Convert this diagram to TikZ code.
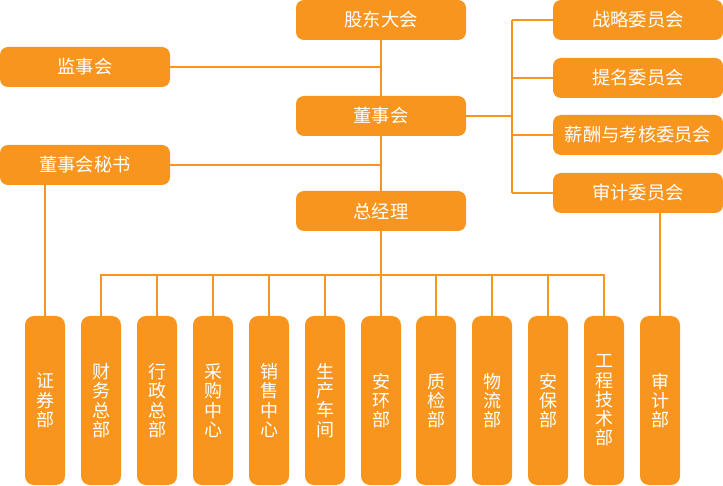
\documentclass[tikz,border=0pt]{standalone}
\usepackage{fontspec}
\setmainfont{Noto Sans CJK SC}
\definecolor{org}{HTML}{F7951F}
\begin{document}
\begin{tikzpicture}[x=1pt,y=-1pt,
  hbox/.style={rectangle,rounded corners=8pt,fill=org,text=white,minimum width=170pt,minimum height=40pt,inner sep=0pt,font=\fontsize{18.3}{20}\selectfont},
  vbox/.style={rectangle,rounded corners=9pt,fill=org,text=white,minimum width=40pt,minimum height=169pt,inner sep=0pt,align=center,font=\fontsize{18}{19.3}\selectfont},
  conn/.style={draw=org,line width=2pt}]
\useasboundingbox (0,0) rectangle (723,486);
% top column
\node[hbox] (gd) at (381,20) {股东大会};
\node[hbox] (dsh) at (381,116) {董事会};
\node[hbox] (zjl) at (381,211) {总经理};
% left
\node[hbox] (jsh) at (85,67) {监事会};
\node[hbox] (ms) at (85,165) {董事会秘书};
% committees
\node[hbox] (zl) at (638,20) {战略委员会};
\node[hbox] (tm) at (638,78) {提名委员会};
\node[hbox] (xc) at (638,135) {薪酬与考核委员会};
\node[hbox] (sjw) at (638,193) {审计委员会};
% departments
\node[vbox] (zq) at (45,400.5) {证\\券\\部};
\node[vbox] (cw) at (101,400.5) {财\\务\\总\\部};
\node[vbox] (xz) at (157,400.5) {行\\政\\总\\部};
\node[vbox] (cg) at (213,400.5) {采\\购\\中\\心};
\node[vbox] (xs) at (269,400.5) {销\\售\\中\\心};
\node[vbox] (sc) at (325,400.5) {生\\产\\车\\间};
\node[vbox] (ah) at (381,400.5) {安\\环\\部};
\node[vbox] (zj) at (436,400.5) {质\\检\\部};
\node[vbox] (wl) at (492,400.5) {物\\流\\部};
\node[vbox] (ab) at (548,400.5) {安\\保\\部};
\node[vbox] (gc) at (604,400.5) {工\\程\\技\\术\\部};
\node[vbox] (sjb) at (660,400.5) {审\\计\\部};
% coordinates
\coordinate (cb) at (512,116);
\coordinate (bus) at (381,275);
% connectors
\draw[conn] (gd) -- (dsh);
\draw[conn] (dsh) -- (zjl);
\draw[conn] (jsh.east) -- (jsh.east -| gd);
\draw[conn] (ms.east) -- (ms.east -| gd);
\draw[conn] (dsh.east) -- (cb);
\draw[conn] (zl.west -| cb) -- (sjw.west -| cb);
\foreach \c in {zl,tm,xc,sjw} \draw[conn] (\c.west) -- (\c.west -| cb);
\draw[conn] (sjb.north) -- (sjb.north |- sjw.south);
\draw[conn] (zq.north) -- (zq.north |- ms.south);
\draw[conn] (zjl.south) -- (bus);
\draw[conn,line cap=rect] (cw.north |- bus) -- (gc.north |- bus);
\foreach \d in {cw,xz,cg,xs,sc,ah,zj,wl,ab,gc} \draw[conn] (\d.north) -- (\d.north |- bus);
\end{tikzpicture}
\end{document}
